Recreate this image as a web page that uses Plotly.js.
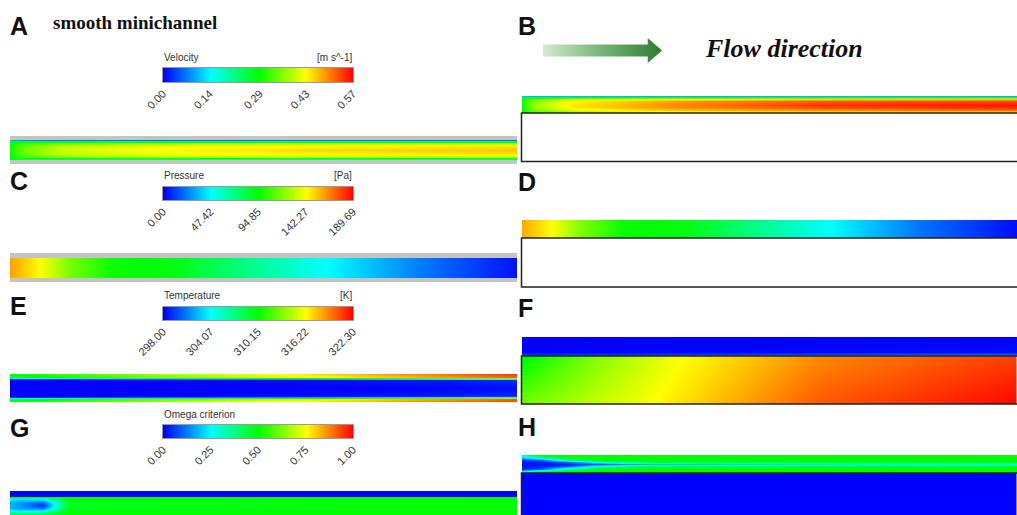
<!DOCTYPE html>
<html><head><meta charset="utf-8">
<script src="https://cdn.plot.ly/plotly-3.0.1.min.js"></script>
<style>html,body{margin:0;padding:0;background:#fff}#chart{width:1017px;height:515px}</style>
</head><body><div id="chart"></div>
<script>
// ================= DATA =================
// colour-legend ticks
const velTicks   = [0.00, 0.14, 0.29, 0.43, 0.57];
const presTicks  = [0.00, 47.42, 94.85, 142.27, 189.69];
const tempTicks  = [298.00, 304.07, 310.15, 316.22, 322.30];
const omegaTicks = [0.00, 0.25, 0.50, 0.75, 1.00];

// A: velocity, smooth minichannel (x = fraction of length, y = fraction of height from top)
const velA_x = [0, 0.03, 0.1, 0.3, 0.6, 1.0];
const velA_y = [0, 0.07, 0.16, 0.3, 0.5, 0.7, 0.84, 0.93, 1];
const velA_z = [
  [0.10, 0.07, 0.06, 0.06, 0.06, 0.06],
  [0.26, 0.23, 0.22, 0.21, 0.21, 0.21],
  [0.29, 0.32, 0.35, 0.37, 0.38, 0.38],
  [0.29, 0.34, 0.39, 0.42, 0.43, 0.44],
  [0.30, 0.35, 0.40, 0.43, 0.45, 0.46],
  [0.29, 0.34, 0.39, 0.42, 0.43, 0.44],
  [0.29, 0.32, 0.35, 0.37, 0.38, 0.38],
  [0.26, 0.23, 0.22, 0.21, 0.21, 0.21],
  [0.05, 0.02, 0.01, 0.01, 0.01, 0.01]
];
// B: velocity, second channel
const velB_x = [0, 0.025, 0.1, 0.3, 0.6, 1.0];
const velB_y = [0, 0.06, 0.16, 0.3, 0.5, 0.65, 0.8, 0.92, 1];
const velB_z = [
  [0.10, 0.10, 0.10, 0.10, 0.10, 0.10],
  [0.25, 0.24, 0.25, 0.26, 0.26, 0.26],
  [0.29, 0.34, 0.40, 0.43, 0.45, 0.46],
  [0.29, 0.36, 0.43, 0.48, 0.52, 0.53],
  [0.30, 0.37, 0.44, 0.49, 0.54, 0.56],
  [0.29, 0.37, 0.44, 0.49, 0.53, 0.55],
  [0.29, 0.35, 0.41, 0.46, 0.49, 0.51],
  [0.28, 0.32, 0.36, 0.40, 0.42, 0.43],
  [0.25, 0.28, 0.31, 0.33, 0.35, 0.36]
];
// C / D: pressure along the channel [Pa]
const presC_x = [0, 0.06, 0.12, 0.2, 0.33, 0.47, 0.62, 0.8, 1.0];
const presC_p = [160, 142, 116, 97, 91, 70, 48, 24, 3];
const presD_x = [0, 0.06, 0.12, 0.2, 0.34, 0.47, 0.62, 0.8, 1.0];
const presD_p = [158, 142, 118, 97, 91, 70, 48, 22, 2];
// E: temperature [K]
const tempE_x = [0, 0.1, 0.3, 0.6, 0.85, 1.0];
const tempE_y = [0, 0.1, 0.15, 0.19, 0.23, 0.5, 0.77, 0.81, 0.85, 0.9, 1];
const tempE_z = [
  [310.0, 311.5, 314.0, 317.0, 319.5, 321.0],
  [309.0, 310.5, 313.0, 316.0, 318.5, 320.0],
  [304.5, 305.5, 307.5, 310.0, 312.0, 313.5],
  [299.0, 299.5, 300.5, 302.0, 303.5, 304.5],
  [298.0, 298.0, 298.0, 298.3, 298.6, 299.0],
  [298.0, 298.0, 298.0, 298.0, 298.0, 298.3],
  [298.0, 298.0, 298.0, 298.3, 298.6, 299.0],
  [299.0, 299.5, 300.5, 302.0, 303.5, 304.5],
  [304.5, 305.5, 307.5, 310.0, 312.0, 313.5],
  [309.0, 310.5, 313.0, 316.0, 318.5, 320.0],
  [310.0, 311.5, 314.0, 317.0, 319.5, 321.0]
];
// F: temperature, fluid strip and solid block [K]
const tempFf_x = [0, 1];
const tempFf_y = [0, 0.8, 0.93, 1];
const tempFf_z = [[298, 298], [298, 298.3], [299.5, 301], [303, 306]];
const tempFs_x = [0, 0.15, 0.31, 0.6, 1];
const tempFs_y = [0, 1];
const tempFs_z = [
  [309.8, 313.2, 316.0, 319.0, 320.8],
  [312.8, 314.8, 316.8, 320.2, 322.2]
];
// G: omega criterion
const omegaG_x = [0, 0.02, 0.065, 0.085, 0.115, 1.0];
const omegaG_y = [0, 0.22, 0.27, 0.35, 0.47, 0.58, 0.69, 0.85, 1.0];
const omegaG_z = [
  [0, 0, 0, 0, 0, 0],
  [0, 0, 0, 0, 0, 0],
  [0.5, 0.5, 0.5, 0.5, 0.5, 0.5],
  [0.25, 0.22, 0.24, 0.36, 0.50, 0.5],
  [0.17, 0.16, 0.12, 0.26, 0.48, 0.5],
  [0.17, 0.15, 0.03, 0.22, 0.47, 0.5],
  [0.17, 0.16, 0.12, 0.26, 0.48, 0.5],
  [0.27, 0.24, 0.26, 0.38, 0.50, 0.5],
  [0.5, 0.5, 0.5, 0.5, 0.5, 0.5]
];
// H: omega criterion, fluid strip and solid block
const omegaH_x = [0, 0.04, 0.09, 0.16, 0.26, 1.0];
const omegaH_y = [0, 0.1, 0.25, 0.4, 0.5, 0.6, 0.75, 0.9, 1];
const omegaH_z = [
  [0.30, 0.50, 0.50, 0.50, 0.50, 0.50],
  [0.22, 0.40, 0.50, 0.50, 0.50, 0.50],
  [0.05, 0.10, 0.35, 0.50, 0.50, 0.50],
  [0.02, 0.03, 0.08, 0.30, 0.45, 0.48],
  [0.02, 0.02, 0.03, 0.08, 0.18, 0.26],
  [0.02, 0.03, 0.08, 0.30, 0.45, 0.48],
  [0.05, 0.10, 0.35, 0.50, 0.50, 0.50],
  [0.22, 0.40, 0.50, 0.50, 0.50, 0.50],
  [0.30, 0.50, 0.50, 0.50, 0.50, 0.50]
];
const omegaHs_x = [0, 1];
const omegaHs_z = [[0, 0], [0, 0]];

// ================= RENDER =================
const W = 1017, H = 515;
const rainbow = [[0,'rgb(0,0,255)'],[0.25,'rgb(0,255,255)'],[0.5,'rgb(0,255,0)'],[0.75,'rgb(255,255,0)'],[1,'rgb(255,0,0)']];
const SANS = 'Liberation Sans, Arial, sans-serif';
const SERIF = 'Liberation Serif, Times New Roman, serif';

const layout = {width: W, height: H, margin: {l:0, r:0, t:0, b:0}, paper_bgcolor: '#fff',
  plot_bgcolor: 'rgba(0,0,0,0)', showlegend: false, shapes: [], annotations: []};
const traces = [];
let axN = 0;
const px = v => Math.max(0, Math.min(1, v / W));
const py = v => Math.max(0, Math.min(1, 1 - v / H));
function addAxes(x0, x1, y0, y1, xo, yo) {
  axN++;
  const s = axN === 1 ? '' : String(axN);
  const base = {showgrid:false, zeroline:false, showticklabels:false, ticks:'', fixedrange:true, showline:false};
  layout['xaxis' + s] = Object.assign({}, base, {domain:[px(x0), px(x1)], anchor:'y' + s}, xo || {});
  layout['yaxis' + s] = Object.assign({}, base, {domain:[py(y1), py(y0)], anchor:'x' + s}, yo || {});
  return {xaxis: 'x' + s, yaxis: 'y' + s};
}
function field(box, x, y, z, zmin, zmax) {
  const ax = addAxes(box[0], box[1], box[2], box[3],
    {range: [x[0], x[x.length - 1]]}, {range: [y[y.length - 1], y[0]]});
  traces.push(Object.assign({type:'heatmap', x, y, z, zmin, zmax, zsmooth:'best',
    colorscale: rainbow, showscale:false, hoverinfo:'skip'}, ax));
}
function legendBar(box, ticks, title, unit) {
  const lo = ticks[0], hi = ticks[ticks.length - 1];
  const ax = addAxes(box[0], box[1], box[2], box[3],
    {range:[lo, hi], showticklabels:true, tickvals: ticks, ticktext: ticks.map(t => t.toFixed(2)),
     tickangle: -45, tickfont:{family: SANS, size: 11, color:'#333'}, showline:true, mirror:true,
     linecolor:'#9a9a9a', linewidth:1},
    {range:[0, 1], showline:true, mirror:true, linecolor:'#9a9a9a', linewidth:1});
  traces.push(Object.assign({type:'heatmap', x: ticks, y:[0, 1], z:[ticks, ticks], zmin: lo, zmax: hi,
    zsmooth:'best', colorscale: rainbow, showscale:false, hoverinfo:'skip'}, ax));
  layout.annotations.push({xref:'paper', yref:'paper', x: px(box[0]), y: py(box[2] - 11), xanchor:'left',
    yanchor:'middle', text: title, showarrow:false, borderpad:0, font:{family:SANS, size:10, color:'#333'}});
  if (unit) layout.annotations.push({xref:'paper', yref:'paper', x: px(box[1]), y: py(box[2] - 11),
    xanchor:'right', yanchor:'middle', text: unit, showarrow:false, borderpad:0, font:{family:SANS, size:10, color:'#333'}});
}
function rect(x0, x1, y0, y1, fill, line, layer) {
  layout.shapes.push({type:'rect', xref:'paper', yref:'paper', x0: x0 / W, x1: x1 / W, y0: 1 - y1 / H, y1: 1 - y0 / H,
    fillcolor: fill, line: line ? {color: line, width: 1.5} : {width: 0}, layer: layer || 'above'});
}
function label(t, x, y) {
  layout.annotations.push({xref:'paper', yref:'paper', x: px(x), y: py(y), xanchor:'left', yanchor:'middle',
    text: '<b>' + t + '</b>', showarrow:false, borderpad:0, font:{family:SANS, size:25, color:'#111'}});
}

// ---- left column ----
label('A', 9, 26); label('C', 9, 181); label('E', 9, 306); label('G', 9, 428);
layout.annotations.push({xref:'paper', yref:'paper', x: px(52), y: py(22), xanchor:'left', yanchor:'middle',
  text:'<b>smooth minichannel</b>', showarrow:false, borderpad:0, font:{family:SERIF, size:19, color:'#111'}});

legendBar([163, 353, 68, 82], velTicks, 'Velocity', '[m s^-1]');
rect(10, 517, 136, 164, '#c4c4c4', null, 'below');
field([10, 517, 140, 160], velA_x, velA_y, velA_z, 0, 0.57);

legendBar([163, 353, 187, 200], presTicks, 'Pressure', '[Pa]');
rect(10, 517, 253, 282, '#c4c4c4', null, 'below');
field([10, 517, 258, 278], presC_x, [0, 1], [presC_p, presC_p], 0, 189.69);

legendBar([163, 353, 307, 320], tempTicks, 'Temperature', '[K]');
field([10, 517, 374, 402], tempE_x, tempE_y, tempE_z, 298, 322.3);

legendBar([163, 353, 425, 438], omegaTicks, 'Omega criterion', '');
field([10, 517, 491, 515], omegaG_x, omegaG_y, omegaG_z, 0, 1);

// ---- right column ----
label('B', 517, 26); label('D', 517, 182); label('F', 517, 308); label('H', 517, 427);
// flow direction arrow
{
  const ax = addAxes(543, 662, 38, 63, {range:[0, 1]}, {range:[0, 1]});
  traces.push(Object.assign({type:'scatter', mode:'lines', fill:'toself',
    x:[0, 0.88, 0.88, 1, 0.88, 0.88, 0, 0], y:[0.26, 0.26, 0, 0.5, 1, 0.74, 0.74, 0.26],
    line:{width:0, color:'rgba(0,0,0,0)'},
    fillgradient:{type:'horizontal', colorscale:[[0,'#d4ead4'],[0.5,'#74b474'],[1,'#2e7d32']]},
    hoverinfo:'skip'}, ax));
}
layout.annotations.push({xref:'paper', yref:'paper', x: px(704), y: py(49), xanchor:'left', yanchor:'middle',
  text:'<b><i>Flow direction</i></b>', showarrow:false, borderpad:0, font:{family:SERIF, size:26, color:'#111'}});

field([522, 1017, 96, 113], velB_x, velB_y, velB_z, 0, 0.57);
rect(521.5, 1020, 113, 161.5, '#fff', '#222');

field([522, 1017, 220, 238], presD_x, [0, 1], [presD_p, presD_p], 0, 189.69);
rect(521.5, 1020, 238, 287, '#fff', '#222');

field([522, 1017, 337, 356], tempFf_x, tempFf_y, tempFf_z, 298, 322.3);
field([521.5, 1017, 356, 404], tempFs_x, tempFs_y, tempFs_z, 298, 322.3);
rect(521.5, 1020, 356, 404, 'rgba(0,0,0,0)', '#222');

field([522, 1017, 455, 473], omegaH_x, omegaH_y, omegaH_z, 0, 1);
field([521.5, 1017, 473, 515], omegaHs_x, [0, 1], omegaHs_z, 0, 1);
rect(521.5, 1020, 473, 518, 'rgba(0,0,0,0)', '#222');

Plotly.newPlot('chart', traces, layout, {displayModeBar:false, staticPlot:true});
</script></body></html>
